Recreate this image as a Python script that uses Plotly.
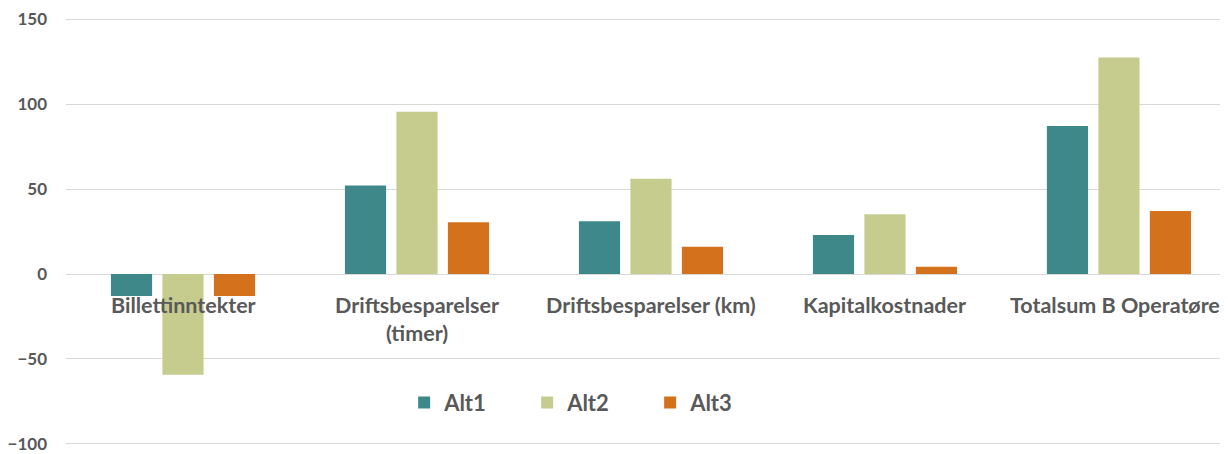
import plotly.graph_objects as go

categories = ["Billettinntekter", "Driftsbesparelser<br>(timer)", "Driftsbesparelser (km)",
              "Kapitalkostnader", "Totalsum B Operatører"]
alt1 = [-13, 52, 31, 22.9, 87]
alt2 = [-59.2, 95.5, 56, 35.2, 127.3]
alt3 = [-12.9, 30.5, 16, 4.3, 37.1]
series_names = ["Alt1", "Alt2", "Alt3"]
colors = ["#3F888A", "#C5CC8E", "#D4711D"]
yticks = [-100, -50, 0, 50, 100, 150]

FONT = "Lato"
GRAY = "#595959"

fig = go.Figure()
for name, vals, col in zip(series_names, [alt1, alt2, alt3], colors):
    fig.add_trace(go.Bar(x=list(range(len(categories))), y=vals, name=name,
                         marker=dict(color=col, line=dict(width=0))))

for i, c in enumerate(categories):
    fig.add_annotation(x=i, y=0, xref="x", yref="y", text=c, showarrow=False,
                       yanchor="top", xanchor="center", yshift=-16,
                       font=dict(family=FONT, size=21.5, color=GRAY, weight="bold"))

fig.update_layout(
    width=1220, height=446,
    margin=dict(l=58, r=0, t=10, b=6),
    paper_bgcolor="white", plot_bgcolor="white",
    barmode="group", bargap=0.34, bargroupgap=0.2,
    showlegend=True,
    legend=dict(orientation="h", x=0.291, xanchor="left", y=0.099, yanchor="middle",
                font=dict(family=FONT, size=22, color=GRAY, weight="bold"),
                entrywidth=78, entrywidthmode="pixels", itemwidth=30,
                bgcolor="rgba(0,0,0,0)"),
    xaxis=dict(range=[-0.5, 4.466], showticklabels=False, showgrid=False,
               zeroline=False, showline=False),
    yaxis=dict(range=[-100.6, 150.6], tickvals=yticks, showgrid=True, gridcolor="#D9D9D9",
               gridwidth=1, zeroline=True, zerolinecolor="#D9D9D9", zerolinewidth=1,
               showline=False, ticklabelstandoff=18, ticklabeloverflow="allow",
               tickfont=dict(family=FONT, size=17, color=GRAY, weight="bold")),
)

fig.write_html("out.html")
